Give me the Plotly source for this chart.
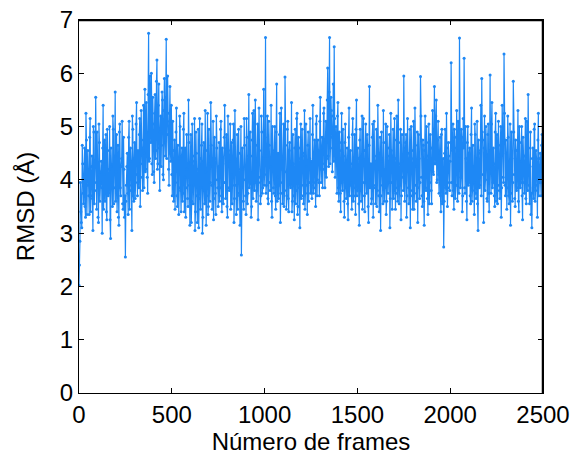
import plotly.graph_objects as go

# RMSD read at frames 0, 5, 10, ... (set A) and 2.5, 7.5, ... (set B)
rmsd_a_0000 = [2.02, 2.85, 3.40, 3.10, 4.30, 3.55, 4.60, 3.30, 4.75, 3.90,
               4.20, 3.35, 5.15, 3.70, 4.45, 3.05, 4.90, 3.80, 5.55, 3.45,
               4.05, 3.20, 4.70, 3.95, 4.35, 3.00, 5.40, 4.10, 3.60, 4.85,
               3.25, 4.55, 3.75, 5.00, 2.90, 4.25, 3.50, 4.95, 3.85, 5.65,
               4.15, 3.40, 4.65, 3.15, 5.05, 3.70, 4.40, 3.55, 4.80, 3.30]
rmsd_a_0250 = [2.55, 3.90, 4.50, 3.35, 5.10, 3.80, 4.35, 3.05, 4.95, 3.60,
               4.70, 3.95, 5.45, 3.70, 4.25, 4.85, 3.50, 5.30, 4.05, 4.60,
               3.85, 5.70, 4.20, 4.90, 3.75, 6.75, 4.40, 5.35, 6.00, 4.10,
               5.05, 3.95, 5.60, 4.55, 6.25, 4.30, 5.80, 3.80, 5.20, 4.65,
               5.50, 4.00, 5.90, 4.45, 6.64, 4.85, 5.25, 3.90, 5.75, 4.35]
rmsd_a_0500 = [4.10, 5.10, 3.60, 4.75, 3.95, 5.35, 3.50, 4.40, 3.85, 5.00,
               3.40, 4.60, 3.75, 5.25, 4.05, 3.30, 4.85, 3.65, 5.50, 3.90,
               4.30, 3.20, 5.05, 3.55, 4.45, 3.05, 4.90, 3.70, 4.20, 3.10,
               5.15, 3.45, 4.65, 3.00, 4.35, 3.80, 5.30, 3.15, 4.55, 3.35,
               4.95, 3.60, 5.45, 3.90, 4.25, 3.25, 4.80, 3.75, 5.20, 4.00]
rmsd_a_0750 = [3.50, 4.70, 3.85, 5.10, 3.40, 4.40, 3.95, 5.40, 3.65, 4.85,
               3.30, 4.55, 3.80, 5.05, 4.10, 3.55, 4.75, 3.20, 5.30, 3.90,
               4.35, 3.45, 4.95, 3.70, 4.20, 2.59, 4.60, 3.60, 5.15, 4.00,
               3.35, 4.80, 3.75, 5.60, 3.95, 4.45, 3.50, 5.25, 4.15, 3.80,
               5.50, 3.60, 4.65, 3.25, 5.35, 4.05, 3.70, 4.90, 3.85, 5.70]
rmsd_a_1000 = [4.10, 6.67, 3.90, 5.20, 3.55, 4.65, 3.80, 5.40, 3.30, 4.50,
               3.75, 5.00, 3.45, 5.80, 4.05, 3.65, 4.85, 3.20, 5.35, 3.95,
               4.40, 3.50, 5.93, 4.15, 3.70, 5.10, 3.40, 4.70, 3.85, 5.45,
               3.60, 4.30, 3.25, 4.95, 3.80, 5.25, 3.50, 4.60, 3.10, 5.05,
               3.90, 4.45, 3.55, 5.30, 3.75, 4.25, 3.35, 4.90, 3.95, 5.15]
rmsd_a_1250 = [4.35, 3.65, 5.40, 3.85, 4.75, 3.50, 5.20, 4.00, 4.55, 3.70,
               5.55, 3.95, 4.80, 4.20, 5.35, 3.85, 5.10, 4.40, 6.10, 4.25,
               6.67, 4.60, 5.30, 4.15, 5.80, 6.50, 4.05, 5.00, 3.75, 5.45,
               3.60, 4.70, 3.40, 5.25, 3.80, 4.45, 3.30, 5.05, 3.65, 4.60,
               3.25, 5.35, 3.90, 4.30, 3.45, 5.15, 3.70, 4.85, 3.35, 5.50]
rmsd_a_1500 = [3.80, 4.40, 3.15, 4.95, 3.60, 5.20, 3.95, 4.55, 3.40, 5.05,
               3.75, 4.65, 3.20, 5.75, 4.00, 3.55, 4.80, 3.30, 5.10, 3.85,
               4.35, 3.50, 5.40, 3.70, 4.50, 3.05, 4.90, 3.90, 5.30, 3.60,
               4.20, 3.35, 5.00, 3.75, 4.60, 3.10, 5.25, 3.95, 4.45, 3.65,
               5.15, 3.45, 4.75, 3.85, 5.50, 3.55, 4.30, 3.25, 4.85, 4.05]
rmsd_a_1750 = [5.95, 3.60, 4.70, 3.30, 5.15, 3.85, 4.40, 3.10, 5.00, 3.70,
               4.55, 3.45, 5.35, 3.90, 4.25, 3.20, 4.85, 3.65, 5.94, 4.05,
               3.50, 4.65, 3.15, 5.20, 3.80, 4.45, 3.35, 5.05, 3.95, 4.60,
               3.55, 5.30, 4.10, 5.75, 4.30, 5.50, 4.00, 5.10, 3.75, 4.80,
               3.40, 4.95, 3.60, 2.74, 4.50, 3.85, 5.25, 3.50, 4.70, 3.95]
rmsd_a_2000 = [4.35, 6.20, 3.70, 5.05, 3.45, 4.80, 3.90, 5.30, 3.60, 4.55,
               6.66, 3.85, 4.95, 3.40, 5.15, 6.28, 3.75, 4.40, 3.25, 5.00,
               3.95, 4.60, 3.55, 5.35, 3.80, 4.25, 3.35, 4.85, 3.65, 5.10,
               3.05, 4.50, 3.90, 5.40, 5.90, 4.75, 3.20, 5.20, 4.00, 4.45,
               3.60, 5.05, 3.40, 5.97, 3.75, 5.45, 3.95, 4.30, 3.50, 5.25]
rmsd_a_2250 = [4.20, 3.55, 5.10, 3.80, 4.65, 3.30, 5.40, 4.05, 6.36, 3.90,
               4.75, 3.45, 5.20, 3.70, 4.35, 3.15, 4.90, 3.60, 5.85, 4.10,
               3.50, 4.55, 3.85, 5.30, 3.40, 4.70, 3.95, 5.00, 3.25, 4.45,
               3.75, 5.15, 3.55, 4.80, 5.60, 3.90, 4.25, 3.35, 3.10, 4.60,
               3.65, 5.05, 3.80, 4.40, 3.30, 5.25, 3.95, 4.50, 3.70, 4.85]

rmsd_b_0000 = [2.40, 3.95, 3.20, 4.65, 3.75, 4.10, 3.50, 5.25, 3.35, 4.55,
               3.70, 4.80, 3.40, 4.25, 3.65, 5.00, 3.55, 4.35, 3.95, 4.90,
               3.30, 5.05, 3.60, 4.15, 3.85, 4.60, 3.45, 4.75, 4.30, 3.40,
               4.95, 3.70, 4.20, 3.25, 4.60, 3.95, 5.20, 3.55, 4.45, 3.60,
               4.85, 3.75, 3.30, 4.90, 3.85, 4.25, 5.10, 3.45, 4.20, 3.70]
rmsd_b_0250 = [3.60, 4.25, 3.75, 4.80, 3.45, 4.60, 3.90, 5.20, 3.70, 4.40,
               3.65, 5.05, 4.10, 4.55, 3.85, 5.15, 4.30, 4.75, 3.80, 5.40,
               4.50, 4.15, 5.45, 4.05, 5.60, 4.35, 5.95, 4.70, 4.30, 5.55,
               4.15, 5.25, 4.40, 5.85, 4.20, 5.40, 4.60, 4.90, 4.25, 5.65,
               4.10, 5.30, 4.70, 5.55, 4.40, 5.95, 4.20, 5.10, 4.50, 5.40]
rmsd_b_0500 = [3.70, 4.55, 4.05, 3.45, 4.90, 3.70, 4.65, 3.35, 5.20, 3.80,
               4.45, 3.60, 4.95, 3.40, 4.60, 3.85, 4.20, 3.50, 4.70, 3.15,
               4.85, 3.60, 4.35, 3.90, 5.15, 3.40, 4.50, 3.20, 4.95, 3.65,
               4.40, 3.85, 5.05, 3.30, 4.70, 3.55, 4.15, 3.70, 5.25, 3.50,
               4.30, 3.95, 4.65, 3.45, 5.10, 3.65, 4.40, 3.35, 4.60, 3.85]
rmsd_b_0750 = [4.25, 3.60, 4.95, 3.70, 4.60, 3.55, 4.80, 3.95, 4.30, 3.50,
               5.20, 3.85, 4.35, 3.45, 4.70, 3.90, 5.05, 3.65, 4.40, 3.35,
               4.85, 3.75, 4.50, 3.15, 5.00, 3.85, 4.20, 3.45, 4.65, 3.70,
               5.15, 3.55, 4.45, 3.85, 4.90, 3.30, 4.75, 3.65, 5.30, 3.95,
               4.35, 3.80, 5.05, 3.95, 4.55, 3.55, 5.20, 3.75, 4.40, 3.90]
rmsd_b_1000 = [4.80, 3.75, 4.45, 3.65, 5.10, 3.95, 4.25, 3.60, 5.00, 3.85,
               4.55, 3.70, 4.90, 3.60, 4.50, 3.90, 5.25, 3.75, 4.20, 3.55,
               5.05, 3.80, 4.65, 3.45, 4.95, 3.65, 4.55, 3.90, 4.30, 3.40,
               4.85, 3.70, 4.60, 3.55, 5.15, 3.35, 4.80, 3.85, 4.40, 3.65,
               4.95, 3.70, 4.50, 3.45, 5.05, 3.90, 4.65, 3.60, 4.40, 3.75]
rmsd_b_1250 = [3.90, 4.85, 3.75, 4.50, 3.95, 5.05, 3.70, 4.75, 3.95, 5.10,
               4.20, 4.60, 3.85, 5.25, 4.30, 4.70, 4.05, 5.50, 4.45, 5.65,
               4.30, 5.55, 4.80, 5.20, 4.35, 5.15, 4.60, 4.40, 5.20, 3.85,
               4.90, 3.75, 4.55, 3.95, 4.95, 3.60, 4.70, 3.85, 4.35, 3.55,
               4.80, 3.70, 4.55, 3.95, 4.85, 3.60, 4.40, 3.85, 4.95, 3.70]
rmsd_b_1500 = [4.60, 3.55, 4.75, 3.80, 4.40, 3.45, 5.15, 3.70, 4.55, 3.95,
               4.85, 3.50, 4.65, 3.85, 4.30, 3.65, 5.05, 3.90, 4.45, 3.55,
               4.95, 3.80, 4.50, 3.40, 4.80, 3.70, 4.35, 3.55, 4.70, 3.85,
               5.05, 3.60, 4.45, 3.95, 4.85, 3.65, 4.55, 3.45, 4.95, 3.80,
               4.40, 3.75, 5.20, 3.60, 4.70, 3.90, 4.95, 3.70, 4.35, 3.80]
rmsd_b_1750 = [4.60, 3.95, 4.85, 3.70, 4.50, 3.55, 4.95, 3.80, 4.40, 3.45,
               5.10, 3.75, 4.65, 3.60, 4.90, 3.85, 4.40, 3.95, 5.20, 3.70,
               4.75, 3.60, 4.55, 3.85, 5.00, 3.65, 4.70, 3.55, 4.85, 3.80,
               4.60, 4.15, 4.95, 4.30, 5.20, 3.95, 4.75, 4.10, 4.50, 3.70,
               4.85, 3.55, 4.40, 3.60, 4.95, 3.75, 4.60, 3.85, 4.45, 3.80]
rmsd_b_2000 = [4.70, 3.95, 4.55, 3.80, 4.95, 3.65, 4.60, 3.90, 5.10, 3.75,
               4.45, 4.05, 4.80, 3.70, 4.60, 3.85, 5.00, 3.60, 4.70, 3.90,
               4.50, 3.70, 4.85, 3.60, 4.65, 3.95, 5.05, 3.75, 4.40, 3.55,
               4.75, 3.85, 4.55, 3.70, 4.90, 4.10, 4.60, 3.80, 5.00, 3.65,
               4.85, 3.75, 4.55, 4.20, 5.05, 3.85, 4.60, 3.70, 4.90, 3.60]
rmsd_b_2250 = [4.85, 3.90, 4.45, 3.65, 5.00, 3.85, 4.70, 3.95, 5.25, 3.70,
               4.50, 3.85, 4.80, 3.55, 5.05, 3.75, 4.40, 3.95, 4.90, 3.65,
               4.75, 3.80, 4.55, 3.60, 5.00, 3.85, 4.35, 3.70, 4.80, 3.95,
               4.45, 3.65, 5.10, 3.80, 4.60, 3.55, 4.90, 3.75, 4.40, 3.85,
               4.95, 3.60, 4.55, 3.90, 4.75, 3.70, 4.40, 3.95, 4.65, 4.15]

rmsd_a = (rmsd_a_0000 + rmsd_a_0250 + rmsd_a_0500 + rmsd_a_0750 + rmsd_a_1000 +
          rmsd_a_1250 + rmsd_a_1500 + rmsd_a_1750 + rmsd_a_2000 + rmsd_a_2250)
rmsd_b = (rmsd_b_0000 + rmsd_b_0250 + rmsd_b_0500 + rmsd_b_0750 + rmsd_b_1000 +
          rmsd_b_1250 + rmsd_b_1500 + rmsd_b_1750 + rmsd_b_2000 + rmsd_b_2250)

frames_a = [5 * i for i in range(len(rmsd_a))]
frames_b = [5 * i + 2.5 for i in range(len(rmsd_b))]

pairs = sorted(zip(frames_a + frames_b, rmsd_a + rmsd_b))
frames = [p[0] for p in pairs]
rmsd = [p[1] for p in pairs]

x_range = [0, 2500]
y_range = [0, 7]
x_ticks = [0, 500, 1000, 1500, 2000, 2500]
y_ticks = [0, 1, 2, 3, 4, 5, 6, 7]
x_title = "Número de frames"
y_title = "RMSD (Å)"

line_color = "rgb(30,136,245)"
font_family = "Liberation Sans, Arial, Helvetica, sans-serif"

fig = go.Figure()
fig.add_trace(go.Scatter(
    x=frames, y=rmsd, mode="lines+markers",
    line=dict(color=line_color, width=1.2),
    marker=dict(color=line_color, size=3),
    showlegend=False,
))

axis_common = dict(
    showline=True, linecolor="black", linewidth=1.2, mirror="ticks",
    ticks="inside", ticklen=5, tickcolor="black", tickwidth=1,
    showgrid=False, zeroline=False,
    tickfont=dict(family=font_family, size=24, color="black"),
)

# frame box drawn slightly inside the plot edges, as a backup for the mirror lines
frame_line = dict(color="black", width=1.3)
fig.add_shape(type="line", xref="paper", yref="paper", x0=0, x1=1,
              y0=1 - 0.6 / 373, y1=1 - 0.6 / 373, line=frame_line, layer="above")
fig.add_shape(type="line", xref="paper", yref="paper", x0=1 - 0.6 / 464,
              x1=1 - 0.6 / 464, y0=0, y1=1, line=frame_line, layer="above")

fig.update_layout(
    width=585, height=457,
    margin=dict(l=79, r=42, t=20, b=64, autoexpand=False),
    paper_bgcolor="white", plot_bgcolor="white",
    font=dict(family=font_family, color="black"),
    xaxis=dict(range=x_range, tickvals=x_ticks,
               title=dict(text=x_title, font=dict(size=24), standoff=1),
               **axis_common),
    yaxis=dict(range=y_range, tickvals=y_ticks,
               title=dict(text=y_title, font=dict(size=24), standoff=18),
               **axis_common),
)

fig.write_html("out.html",
               config={"displayModeBar": False},
               post_script="document.body.style.margin='0px';")
